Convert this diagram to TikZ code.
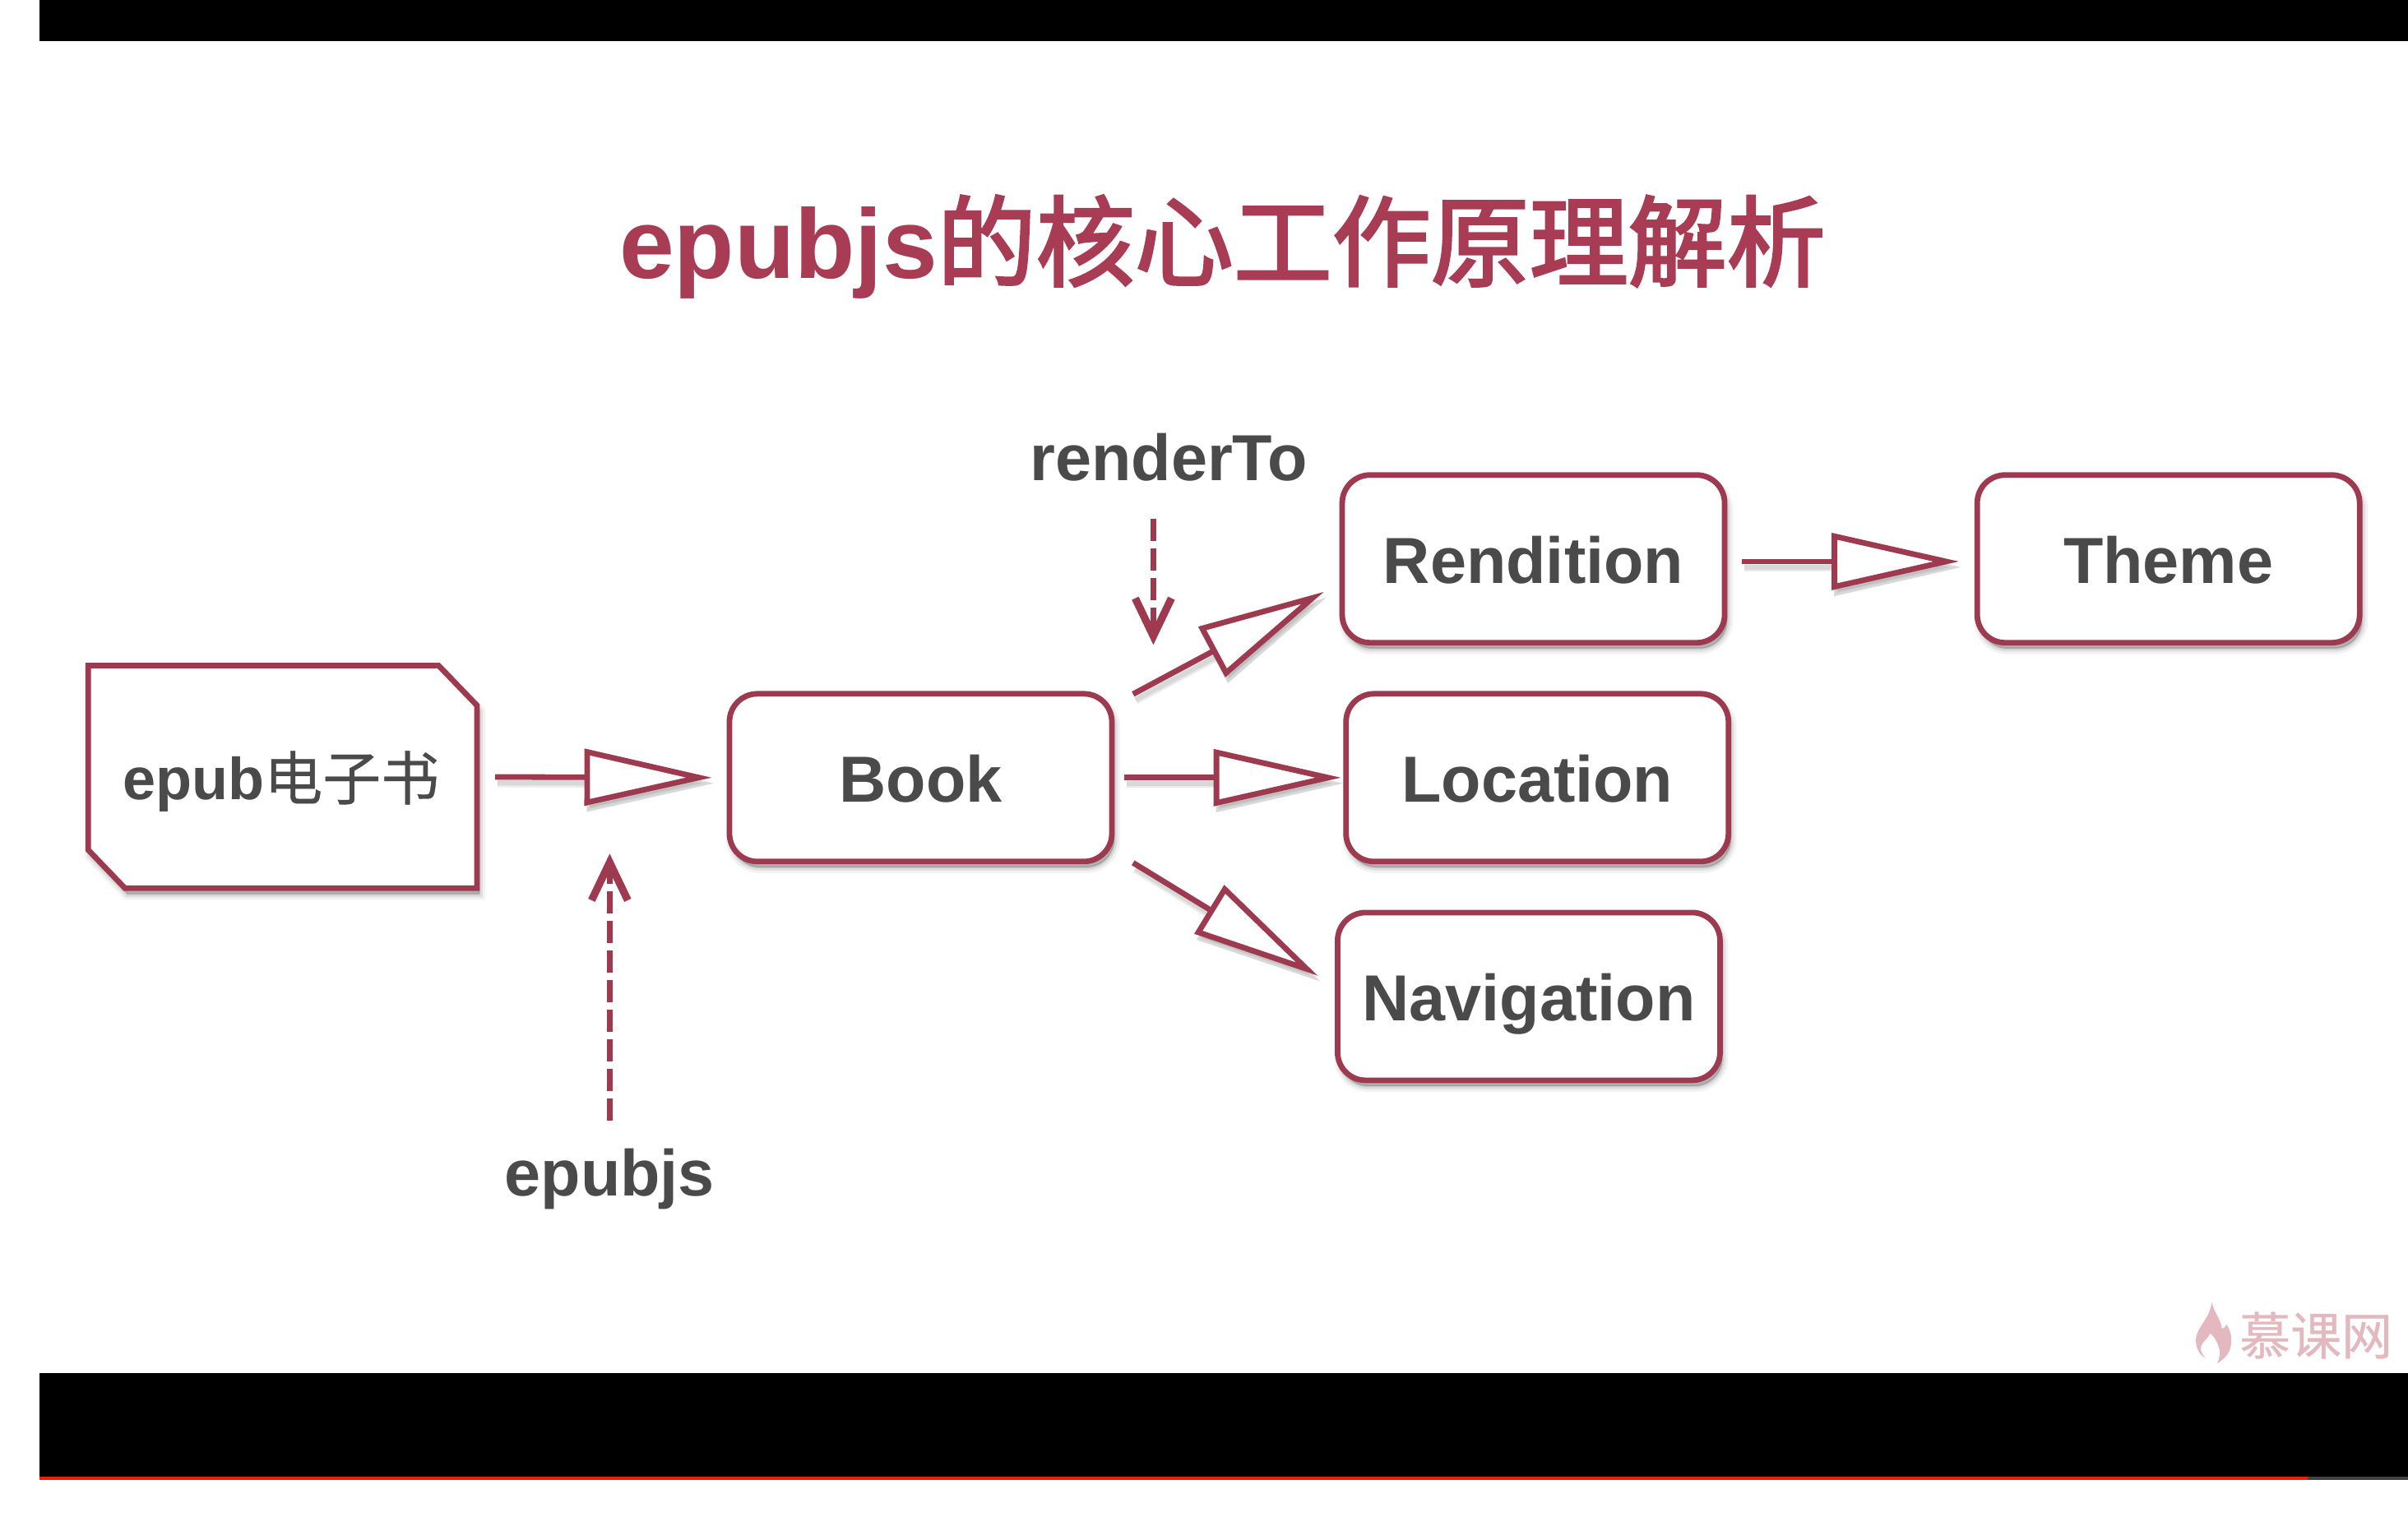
\documentclass[tikz,border=0pt]{standalone}
\usepackage{fontspec}
\setmainfont{Liberation Sans}
\newfontfamily\cjk{Noto Sans CJK SC}
\newfontfamily\cjktitle[FakeBold=2.5]{Noto Sans CJK SC}
\newfontfamily\cjknote[FakeBold=0.5]{Noto Sans CJK SC}
\usetikzlibrary{arrows.meta,calc,shadows}
\definecolor{strokecol}{HTML}{9E3A50}
\definecolor{titlecol}{HTML}{A83C54}
\definecolor{inkcol}{HTML}{4A4A4A}
\definecolor{wmcol}{HTML}{E3B8BF}
\tikzset{
  softshadow/.style={
    general shadow={shadow xshift=1.5pt,shadow yshift=-3.5pt,draw=black,fill=black,opacity=.05,line width=7pt},
    general shadow={shadow xshift=1.5pt,shadow yshift=-3.5pt,draw=black,fill=black,opacity=.07,line width=4pt},
    general shadow={shadow xshift=1.5pt,shadow yshift=-3.5pt,draw=black,fill=black,opacity=.09,line width=1.5pt}},
  boxnode/.style={softshadow,draw=strokecol,line width=3.4pt,fill=white,rounded corners=17pt,
    minimum width=232.5pt,minimum height=102pt,inner sep=0pt,text=inkcol,
    text height=30pt,text depth=0pt,font=\fontsize{39.6}{42}\selectfont\bfseries},
  plainlabel/.style={text=inkcol,inner sep=0pt,font=\fontsize{39.6}{42}\selectfont\bfseries},
  bigarrow/.style={draw=strokecol,line width=3.4pt,-{Triangle[open,length=77.5pt,width=34pt,fill=white]}},
  bigarrowshadow/.style={draw=black,line width=#1,opacity=.08,transform canvas={shift={(1.5pt,-3.5pt)}},
    -{Triangle[length=77.5pt,width=34pt,fill=black]}},
  dasharrow/.style={draw=strokecol,line width=3.6pt,dash pattern=on 13.5pt off 4.5pt,
    -{Straight Barb[length=23pt,width=22pt,line width=4.6pt,sep=0pt]}},
}
\newcommand{\conn}[3][]{%
  \draw[bigarrowshadow=5.5pt,#1] #2 -- #3;
  \draw[bigarrowshadow=3pt,#1] #2 -- #3;
  \draw[bigarrow,#1] #2 -- #3;}
\begin{document}
\begin{tikzpicture}[x=0.93367pt,y=-0.93367pt]
\useasboundingbox (0,0) rectangle (1568,993.92);
\fill[white] (0,0) rectangle (1568,993.92);
% video bars
\fill[black] (25.7,0) rectangle (1568,26.8);
\fill[black] (25.7,894.3) rectangle (1568,961.8);
\fill[red!75!orange!95!black] (25.7,961.8) rectangle (1502.7,964);
\fill[inkcol!90!black] (1502.7,961.8) rectangle (1568,964);

\node[text=titlecol,inner sep=0pt] (title) at (796,161)
  {\fontsize{60}{70}\selectfont\bfseries epubjs{\cjktitle\mdseries\fontsize{60}{70}\selectfont 的核心工作原理解析}};

% nodes
\node[boxnode] (book) at (599.5,506.5) {Book};
\node[boxnode] (rendition) at (998.5,364) {Rendition};
\node[boxnode] (location) at (1001,506.5) {Location};
\node[boxnode] (navigation) at (995.5,649) {Navigation};
\node[boxnode] (theme) at (1412,364) {Theme};

% note shape
\node[minimum width=236pt,minimum height=135pt,inner sep=0pt] (note) at (184,506) {};
\draw[softshadow,draw=strokecol,line width=3.4pt,fill=white,line join=miter]
  (note.north west) -- ($(note.north east)+(-25,0)$) -- ($(note.north east)+(0,26)$)
  -- (note.south east) -- ($(note.south west)+(24,0)$) -- ($(note.south west)+(0,-25)$) -- cycle;
\node[text=inkcol,inner sep=0pt] (notetext) at ($(note.center)+(-1,3)$)
  {\fontsize{36}{42}\selectfont\bfseries epub{\cjknote\mdseries\fontsize{35.5}{42}\selectfont 电子书}};

% labels
\node[plainlabel] (renderto) at (761,298) {renderTo};
\node[plainlabel] (epubjs) at (397,768) {epubjs};

% connector end points
\coordinate (bookNE) at ($(book.north east)+(12,2)$);
\coordinate (rendIn) at ($(rendition.south west)+(-10,-35)$);
\coordinate (bookSE) at ($(book.south east)+(12,-1)$);
\coordinate (navIn) at ($(navigation.north west)+(-11,43)$);
\coordinate (rtStart) at ($(renderto.south)+(-10,24)$);
\coordinate (rtEnd) at (751,420);
\coordinate (ejStart) at ($(epubjs.north)+(0,-18)$);
\coordinate (ejEnd) at (397,556);

% connectors
\conn[shorten <=11pt,shorten >=9pt]{(note.east)}{(book.west)}
\conn[shorten <=6pt,shorten >=1.3pt]{(book.east)}{(location.west)}
\conn[shorten <=9pt,shorten >=9.3pt]{([yshift=-1.6pt]rendition.east)}{([yshift=-1.6pt]theme.west)}
\conn{(bookNE)}{(rendIn)}
\conn{(bookSE)}{(navIn)}
\draw[dasharrow] (rtStart) -- (rtEnd);
\draw[dasharrow] (ejStart) -- (ejEnd);

% watermark
\begin{scope}[shift={(1392.4,824.7)},x=0.1667pt,y=-0.1667pt]
\fill[wmcol] (268,130) .. controls (275,170) and (300,190) .. (305,228)
  .. controls (312,225) and (318,222) .. (322,212)
  .. controls (335,235) and (342,255) .. (338,285)
  .. controls (335,320) and (310,340) .. (288,355)
  .. controls (298,335) and (300,310) .. (292,290)
  .. controls (282,265) and (270,250) .. (262,245)
  .. controls (255,265) and (232,275) .. (228,295)
  .. controls (225,310) and (235,325) .. (245,335)
  .. controls (225,325) and (208,300) .. (210,265)
  .. controls (212,225) and (262,190) .. (268,130) -- cycle;
\node[text=wmcol,inner sep=0pt] (wm) at (648,252) {\cjknote\fontsize{31}{31}\selectfont 慕课网};
\end{scope}
\end{tikzpicture}
\end{document}
